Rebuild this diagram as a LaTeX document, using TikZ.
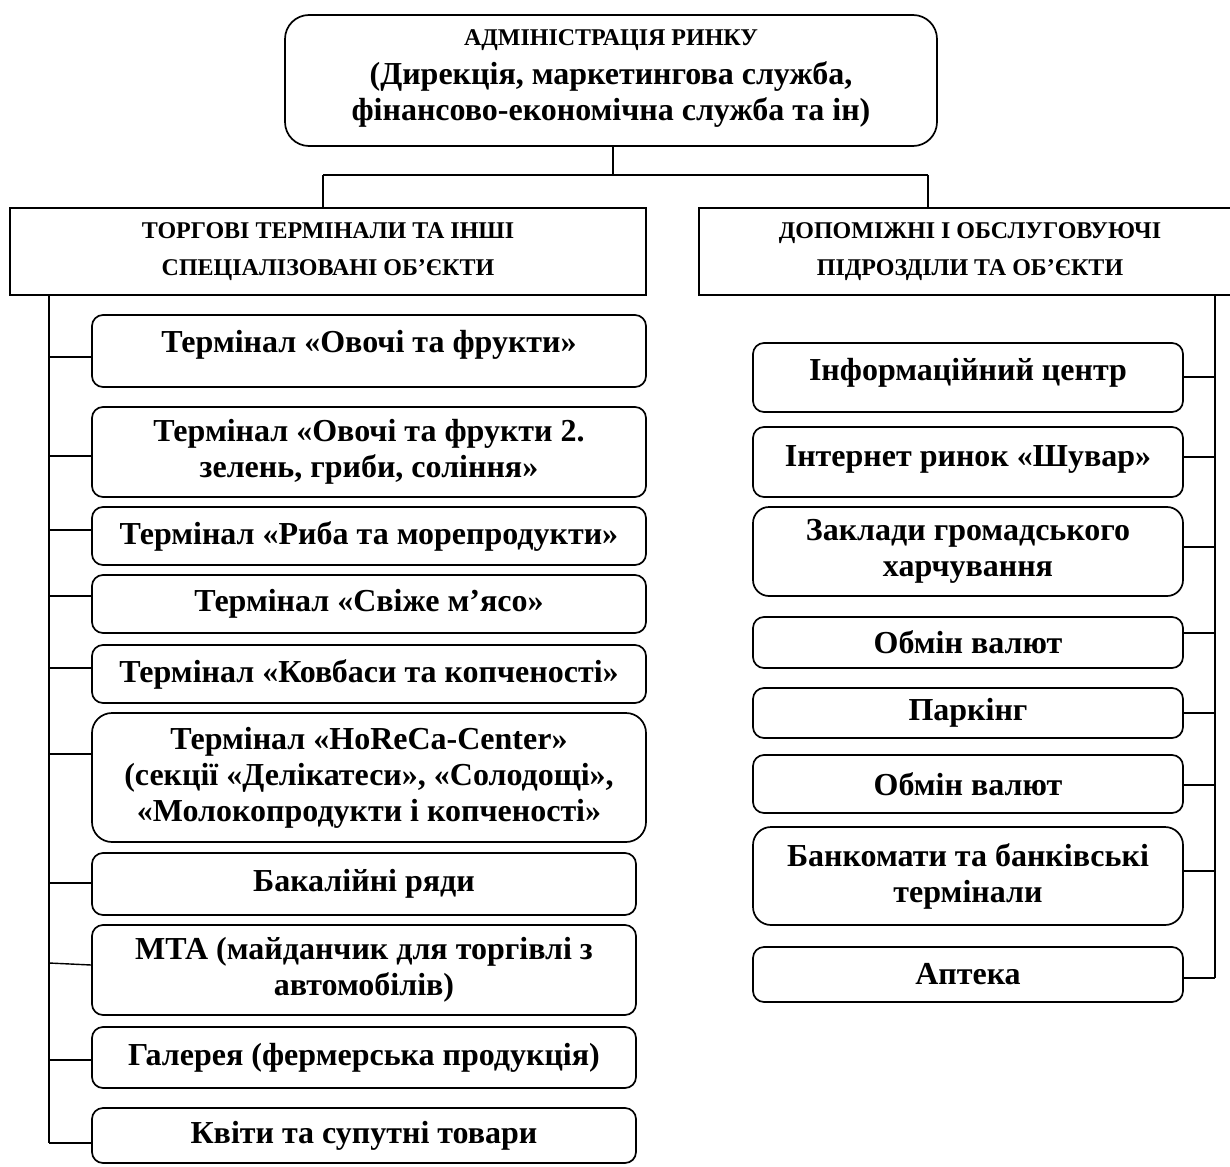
\documentclass[tikz,border=0pt]{standalone}
\usepackage{fontspec}
\setmainfont{Liberation Serif}
\newcommand{\liftup}[2]{\raisebox{#1}[\height][\depth]{#2}}
\begin{document}
\begin{tikzpicture}[x=1pt,y=-1pt,
  boxline/.style={line width=1.7pt},
  conn/.style={line width=1.4pt},
  rbox/.style={boxline, draw, rounded corners=11pt, align=center, inner sep=0pt,
    font=\fontsize{32}{36}\selectfont\bfseries},
  hbox/.style={boxline, draw, align=center, inner sep=0pt,
    font=\fontsize{24}{37}\selectfont\bfseries},
]
\useasboundingbox (0,0) rectangle (1230,1166);
% top
\node[rbox, rounded corners=24pt, minimum width=652pt, minimum height=131pt] (top) at (611,80.5)
  {\liftup{5pt}{\begin{tabular}{@{}c@{}}{\fontsize{24}{26}\selectfont АДМІНІСТРАЦІЯ РИНКУ}\\[3pt]
   \fontsize{32}{34}\selectfont(Дирекція, маркетингова служба,\\ \fontsize{32}{34}\selectfont фінансово-економічна служба та ін)\end{tabular}}};
% headers
\node[hbox, minimum width=636pt, minimum height=87pt] (lh) at (328,251.5)
  {ТОРГОВІ ТЕРМІНАЛИ ТА ІНШІ\\ СПЕЦІАЛІЗОВАНІ ОБ’ЄКТИ};
\node[hbox, minimum width=542pt, minimum height=87pt] (rh) at (970,251.5)
  {ДОПОМІЖНІ І ОБСЛУГОВУЮЧІ\\ ПІДРОЗДІЛИ ТА ОБ’ЄКТИ};
% left boxes
\node[rbox, minimum width=554pt, minimum height=72pt] (l1) at (369,351)
  {\liftup{6pt}{Термінал «Овочі та фрукти»}};
\node[rbox, minimum width=554pt, minimum height=90pt] (l2) at (369,452)
  {Термінал «Овочі та фрукти 2.\\ зелень, гриби, соління»};
\node[rbox, minimum width=554pt, minimum height=58pt] (l3) at (369,536)
  {Термінал «Риба та морепродукти»};
\node[rbox, minimum width=554pt, minimum height=58pt] (l4) at (369,604)
  {Термінал «Свіже м’ясо»};
\node[rbox, minimum width=554pt, minimum height=58pt] (l5) at (369,674)
  {Термінал «Ковбаси та копченості»};
\node[rbox, rounded corners=20pt, minimum width=554pt, minimum height=129pt] (l6) at (369,777.5)
  {Термінал «HoReCa-Center»\\ (секції «Делікатеси», «Солодощі»,\\ «Молокопродукти і копченості»};
\node[rbox, minimum width=544pt, minimum height=62pt] (l7) at (364,884)
  {Бакалійні ряди};
\node[rbox, minimum width=544pt, minimum height=90pt] (l8) at (364,970)
  {МТА (майданчик для торгівлі з\\ автомобілів)};
\node[rbox, minimum width=544pt, minimum height=61pt] (l9) at (364,1057.5)
  {Галерея (фермерська продукція)};
\node[rbox, minimum width=544pt, minimum height=55pt] (l10) at (364,1135.5)
  {Квіти та супутні товари};
% right boxes
\node[rbox, minimum width=430pt, minimum height=69pt] (r1) at (968,377.5)
  {\liftup{5pt}{Інформаційний центр}};
\node[rbox, minimum width=430pt, minimum height=70pt] (r2) at (968,462)
  {\liftup{3pt}{Інтернет ринок «Шувар»}};
\node[rbox, rounded corners=16pt, minimum width=430pt, minimum height=89pt] (r3) at (968,551.5)
  {Заклади громадського\\ харчування};
\node[rbox, minimum width=430pt, minimum height=51pt] (r4) at (968,642.5)
  {Обмін валют};
\node[rbox, minimum width=430pt, minimum height=50pt] (r5) at (968,713)
  {Паркінг};
\node[rbox, minimum width=430pt, minimum height=58pt] (r6) at (968,784)
  {Обмін валют};
\node[rbox, rounded corners=18pt, minimum width=430pt, minimum height=98pt] (r7) at (968,876)
  {Банкомати та банківські\\ термінали};
\node[rbox, minimum width=430pt, minimum height=55pt] (r8) at (968,974.5)
  {Аптека};
% top connectors
\coordinate (jm) at (613,175);
\coordinate (jl) at (323,175);
\coordinate (jr) at (928,175);
\draw[conn] (top.south -| jm) -- (jm);
\draw[conn] (jl) -- (jr);
\draw[conn] (jl) -- (jl |- lh.north);
\draw[conn] (jr) -- (jr |- rh.north);
% left trunk
\coordinate (lt) at (49,295);
\coordinate (lb) at (49,1143);
\draw[conn] (lt) -- (lb);
\foreach \n/\yy in {l1/357,l2/456,l3/530,l4/596,l5/668,l6/754,l7/883,l9/1060}{
  \draw[conn] (49,\yy) -- (\n.west |- 0,\yy);
}
\draw[conn] (49,963) -- (l8.west |- 0,965);
\draw[conn] (lb) -- (l10.west |- lb);
% right trunk
\coordinate (rt) at (1215,295);
\coordinate (rb) at (1215,978);
\draw[conn] (rt) -- (rb);
\foreach \n/\yy in {r1/377,r2/457,r3/547,r4/633,r5/713,r6/785,r7/871}{
  \draw[conn] (\n.east |- 0,\yy) -- (1215,\yy);
}
\draw[conn] (r8.east |- rb) -- (rb);
\end{tikzpicture}
\end{document}
